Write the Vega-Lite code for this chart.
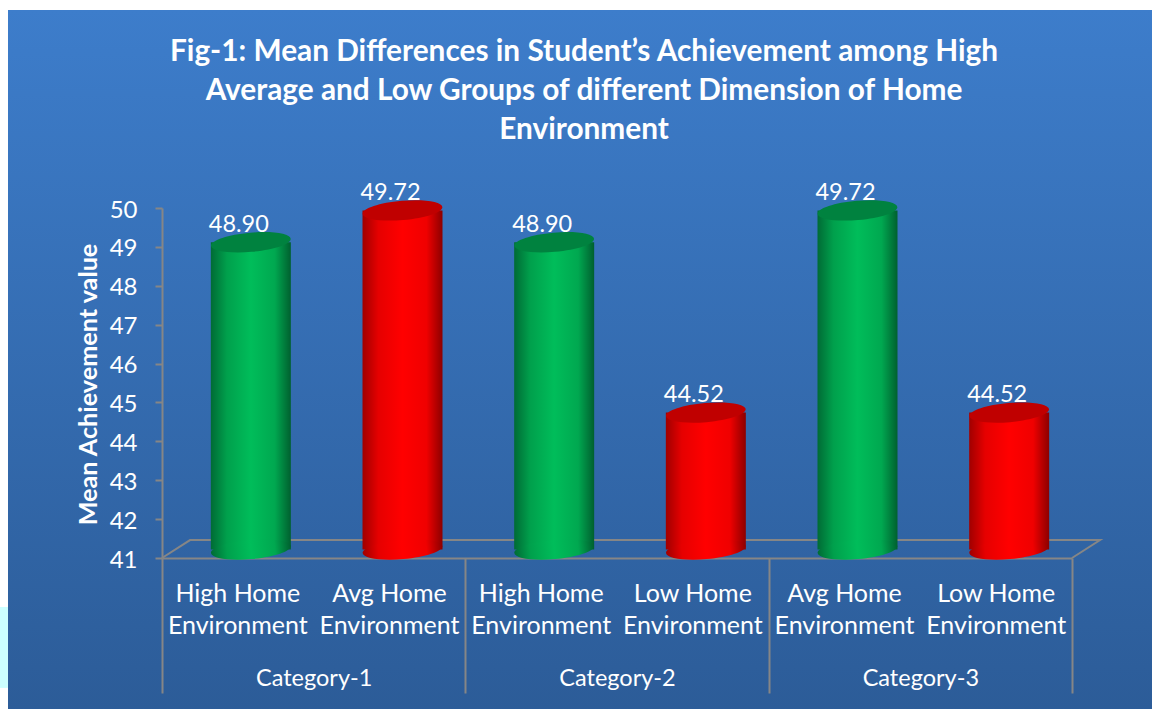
{
"$schema":"https://vega.github.io/schema/vega-lite/v6.json",
"width":1144,"height":699,
"autosize":{"type":"none"},
"padding":{"left":8,"top":10,"right":0,"bottom":0},
"background":"#ffffff",
"view":{"stroke":null,"fill":{"gradient":"linear","x1":0,"y1":0,"x2":0,"y2":1,"stops":[{"offset":0,"color":"#3d7dcb"},{"offset":1,"color":"#2c5c98"}]}},
"title":{"text":["Fig-1: Mean Differences in Student’s Achievement among High","Average and Low Groups of different Dimension of Home","Environment"],"orient":"top","anchor":"middle","frame":"group","dx":4,"baseline":"top","offset":-135,"color":"#ffffff","font":"Lato","fontSize":29.8,"fontWeight":"bold","lineHeight":39},
"datasets":{
"bars":[
{"category":"Category-1","slot":"first","label":"High Home\nEnvironment","value":48.90},
{"category":"Category-1","slot":"second","label":"Avg Home\nEnvironment","value":49.72},
{"category":"Category-2","slot":"first","label":"High Home\nEnvironment","value":48.90},
{"category":"Category-2","slot":"second","label":"Low Home\nEnvironment","value":44.52},
{"category":"Category-3","slot":"first","label":"Avg Home\nEnvironment","value":49.72},
{"category":"Category-3","slot":"second","label":"Low Home\nEnvironment","value":44.52}
],
"floor":[
{"fx":0,"fy":41,"o":1},{"fx":0.185,"fy":41.46,"o":2},{"fx":6.185,"fy":41.46,"o":3},{"fx":6,"fy":41,"o":4}
],
"patch":[{"fx":-1.042,"fy":39.74,"fy2":37.66}]
},
"resolve":{"scale":{"x":"independent"}},
"layer":[
{"data":{"name":"patch"},"mark":{"type":"rule","strokeWidth":8,"color":"#ccffff","clip":false},
 "encoding":{"x":{"field":"fx","type":"quantitative","scale":{"domain":[0,6],"range":[154,1064]},"axis":null},
 "y":{"field":"fy","type":"quantitative","scale":{"domain":[41,50],"range":[548,198],"zero":false,"nice":false},
    "axis":{"orient":"left","offset":-154,"values":[41,42,43,44,45,46,47,48,49,50],"format":"d","grid":false,"title":"Mean Achievement value","titleColor":"#ffffff","titleFont":"Lato","titleFontSize":25.2,"titleFontWeight":"bold","titleAngle":-90,"titleX":-74,"titleY":374,"titleAlign":"center","titleBaseline":"middle","domainColor":"#868686","domainWidth":2,"tickColor":"#868686","tickWidth":2,"tickSize":7,"labelPadding":18,"labelOffset":2,"labelColor":"#ffffff","labelFont":"Lato","labelFontSize":24}},"y2":{"field":"fy2"}}},
{"data":{"name":"floor"},"mark":{"type":"line","color":"#868686","strokeWidth":2,"interpolate":"linear"},
 "encoding":{"x":{"field":"fx","type":"quantitative","scale":{"domain":[0,6],"range":[154,1064]},"axis":null},
 "y":{"field":"fy","type":"quantitative"},"order":{"field":"o","type":"ordinal"}}},
{"data":{"name":"bars"},
 "encoding":{
  "x":{"field":"category","type":"nominal","sort":null,"scale":{"range":[154,1064],"paddingInner":0,"paddingOuter":0},
   "axis":{"orient":"bottom","offset":-151,"title":null,"labelAngle":0,"domainColor":"#868686","domainWidth":2,"tickColor":"#868686","tickWidth":2,"tickSize":135,"tickBand":"extent","labelPadding":-15,"labelBaseline":"middle","labelColor":"#ffffff","labelFont":"Lato","labelFontSize":23.5}},
  "xOffset":{"field":"slot","type":"nominal","sort":null,"scale":{"range":[13,316.33],"paddingInner":0,"paddingOuter":0}}
 },
 "layer":[
 {"mark":{"type":"bar","width":80,"yOffset":-8.5,"y2Offset":-8.5},
  "encoding":{
   "y":{"field":"value","type":"quantitative"},
   "y2":{"datum":41},
   "fill":{"condition":{"test":"datum.slot=='first'","value":{"gradient":"linear","x1":0,"y1":0,"x2":1,"y2":0,"stops":[{"offset":0,"color":"#006b35"},{"offset":0.2,"color":"#00a04c"},{"offset":0.5,"color":"#00bd5a"},{"offset":0.8,"color":"#00a850"},{"offset":1,"color":"#00602f"}]}},
     "value":{"gradient":"linear","x1":0,"y1":0,"x2":1,"y2":0,"stops":[{"offset":0,"color":"#a00000"},{"offset":0.2,"color":"#e60000"},{"offset":0.5,"color":"#ff0000"},{"offset":0.8,"color":"#f00000"},{"offset":1,"color":"#8c0000"}]}}
  }},
 {"mark":{"type":"point","filled":true,"shape":"M-1,0A1,0.24 0 1,1 1,0A1,0.24 0 1,1 -1,0Z","size":6400,"angle":-5,"opacity":1,"yOffset":-8.5},
  "encoding":{
   "y":{"datum":41,"type":"quantitative"},
   "fill":{"condition":{"test":"datum.slot=='first'","value":{"gradient":"linear","x1":0,"y1":0,"x2":1,"y2":0,"stops":[{"offset":0,"color":"#006b35"},{"offset":0.2,"color":"#00a04c"},{"offset":0.5,"color":"#00bd5a"},{"offset":0.8,"color":"#00a850"},{"offset":1,"color":"#00602f"}]}},
     "value":{"gradient":"linear","x1":0,"y1":0,"x2":1,"y2":0,"stops":[{"offset":0,"color":"#a00000"},{"offset":0.2,"color":"#e60000"},{"offset":0.5,"color":"#ff0000"},{"offset":0.8,"color":"#f00000"},{"offset":1,"color":"#8c0000"}]}}
  }},
 {"mark":{"type":"point","filled":true,"shape":"M-1,0A1,0.24 0 1,1 1,0A1,0.24 0 1,1 -1,0Z","size":6400,"angle":-5,"opacity":1,"yOffset":-8.5},
  "encoding":{
   "y":{"field":"value","type":"quantitative"},
   "fill":{"condition":{"test":"datum.slot=='first'","value":"#00823f"},"value":"#c00000"}
  }},
 {"mark":{"type":"text","color":"#ffffff","font":"Lato","fontSize":23.5,"dx":-12,"yOffset":-26,"baseline":"middle"},
  "encoding":{"y":{"field":"value","type":"quantitative"},"text":{"field":"value","type":"quantitative","format":".2f"}}},
 {"mark":{"type":"text","color":"#ffffff","font":"Lato","fontSize":25,"dx":-13,"lineBreak":"\n","lineHeight":32,"baseline":"middle"},
  "encoding":{"y":{"datum":40.07,"type":"quantitative"},"text":{"field":"label","type":"nominal"}}}
 ]}
]
}
